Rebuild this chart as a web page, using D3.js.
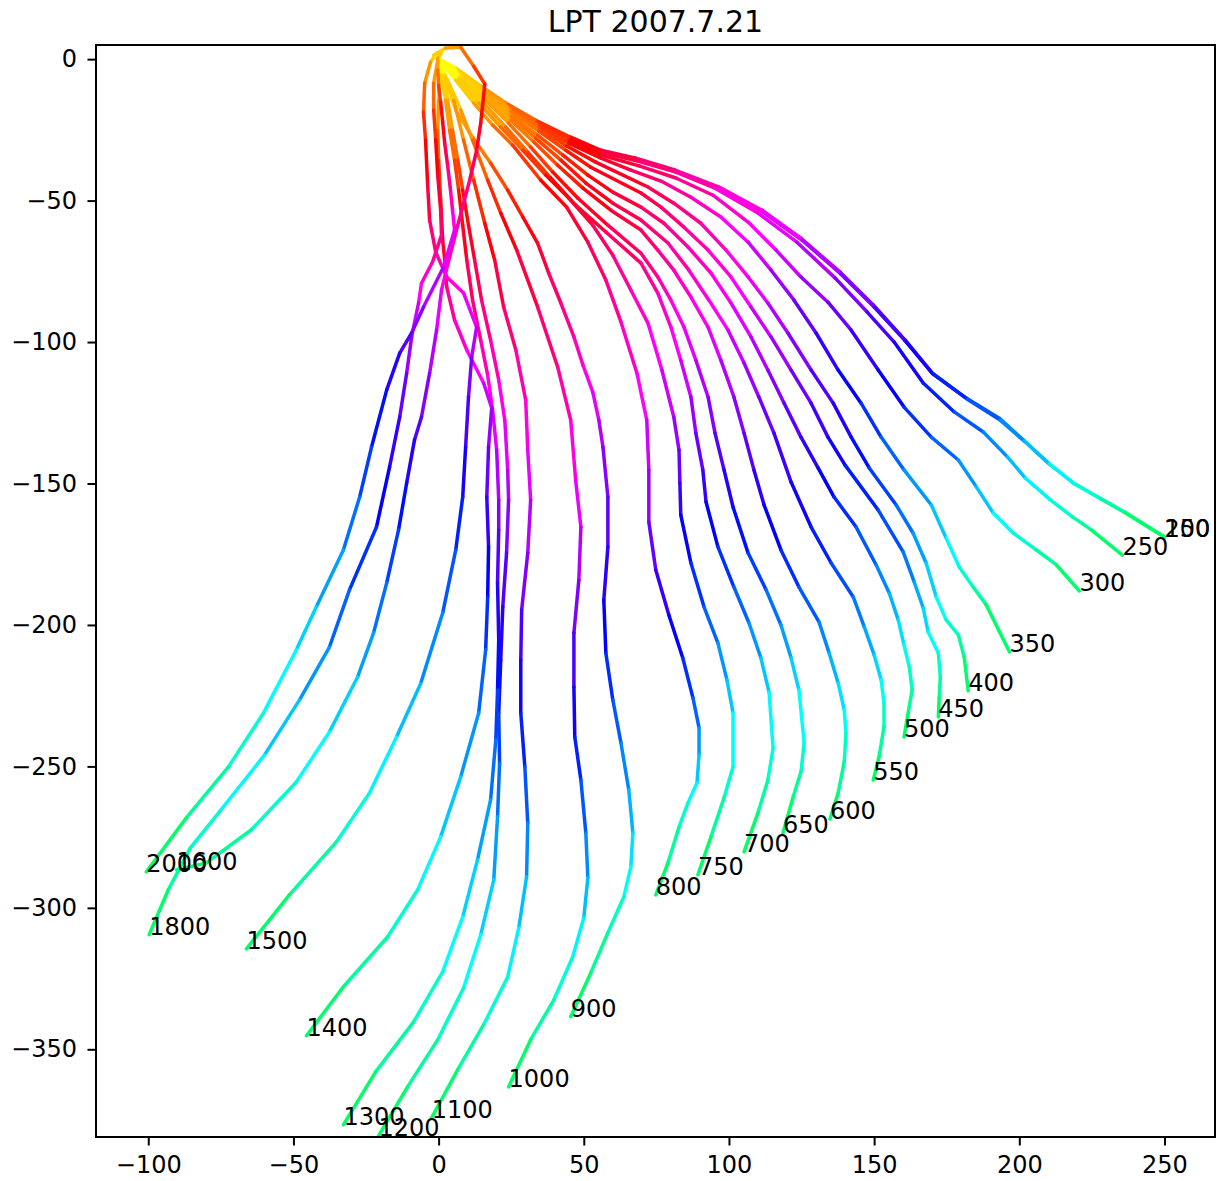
<!DOCTYPE html>
<html>
<head>
<meta charset="utf-8">
<script src="https://cdn.jsdelivr.net/npm/d3@7"></script>
<style>
  body { margin: 0; background: #fff; }
  svg { display: block; }
  text { font-family: "DejaVu Sans", sans-serif; }
</style>
</head>
<body>
<svg id="chart" width="1223" height="1181"></svg>
<script>
// Release heights (m) used as end-of-track labels
const startLabels = [150, 200, 250, 300, 350, 400, 450, 500, 550, 600, 650, 700, 750, 800,
                     900, 1000, 1100, 1200, 1300, 1400, 1500, 1600, 1800, 2000];

// Particle tracks, [x, y] per time step
const traj150 = [[0,0],[5.9,-3.2],[14.5,-9.5],[23.1,-15.5],[33.4,-21.6],[45.5,-27.6],[55.9,-32.2],[67.9,-35.0],[81.4,-39.2],[96.6,-45.2],[111.4,-53.4],[124.8,-63.3],[138.3,-75.3],[149.7,-86.9],[160.7,-99.3],[170.0,-111.0],[181.7,-119.8],[193.1,-126.9],[201.4,-134.6],[210.0,-142.8],[218.6,-149.8],[227.6,-155.1],[236.2,-160.1],[250.0,-168.9]];
const traj200 = [[0,0],[6.2,-3.5],[14.8,-9.9],[23.4,-15.9],[33.8,-22.0],[45.5,-28.0],[56.2,-32.5],[68.3,-35.3],[81.7,-39.6],[97.0,-45.9],[111.7,-54.1],[125.2,-64.0],[138.6,-76.0],[150.0,-87.6],[160.7,-99.6],[170.3,-111.3],[182.1,-120.2],[193.4,-127.6],[201.7,-135.0],[210.3,-143.1],[219.0,-150.1],[228.0,-155.4],[236.6,-160.4],[250.0,-168.9]];
const traj250 = [[0,0],[6.2,-3.9],[14.8,-10.2],[23.4,-16.3],[33.8,-22.3],[45.5,-28.3],[55.9,-32.9],[68.6,-36.0],[81.7,-39.9],[95.2,-45.6],[110.0,-54.4],[123.4,-64.7],[136.6,-77.4],[147.6,-89.4],[156.9,-100.0],[166.9,-114.5],[177.6,-124.7],[187.6,-131.8],[195.9,-140.6],[202.1,-148.1],[210.7,-155.8],[218.3,-161.8],[224.8,-166.4],[235.5,-175.3]];
const traj300 = [[0,0],[6.2,-4.2],[15.2,-11.0],[23.8,-17.0],[34.1,-23.3],[44.8,-29.0],[55.9,-33.9],[69.3,-37.8],[81.7,-42.0],[94.5,-48.1],[106.6,-57.6],[116.2,-67.5],[124.8,-77.0],[134.1,-85.9],[142.1,-95.8],[151.4,-109.9],[160.3,-123.0],[169.7,-133.6],[179.0,-141.7],[185.2,-151.2],[191.0,-160.4],[197.9,-167.5],[205.9,-173.5],[212.8,-178.8],[220.7,-188.0]];
const traj350 = [[0,0],[6.6,-4.6],[15.5,-11.3],[24.1,-17.3],[34.5,-23.7],[44.8,-29.7],[55.9,-35.0],[66.2,-39.2],[76.6,-43.1],[86.9,-48.8],[97.2,-55.8],[106.6,-64.7],[114.5,-74.6],[122.4,-85.2],[130.0,-96.8],[137.6,-109.9],[145.5,-121.6],[152.4,-133.6],[160.3,-145.2],[169.7,-157.6],[174.8,-169.3],[179.3,-179.5],[184.1,-186.6],[188.6,-192.9],[196.6,-209.5]];
const traj400 = [[0,0],[6.6,-4.9],[15.5,-11.7],[24.5,-18.0],[34.5,-24.4],[44.1,-30.7],[54.1,-36.4],[72.1,-45.2],[81.0,-50.9],[90.3,-58.0],[99.0,-67.5],[106.6,-77.0],[113.4,-86.2],[120.3,-96.8],[128.3,-109.9],[135.9,-121.6],[142.1,-133.6],[148.3,-144.5],[157.6,-157.6],[163.4,-167.5],[167.9,-178.1],[171.4,-190.1],[174.8,-198.2],[179.0,-203.5],[181.0,-211.3],[182.4,-223.3]];
const traj450 = [[0,0],[6.6,-5.3],[15.9,-12.0],[24.8,-18.7],[34.5,-25.4],[43.8,-32.2],[52.4,-38.2],[69.7,-47.3],[76.6,-52.3],[84.5,-59.4],[92.8,-67.5],[100.7,-77.0],[107.6,-87.6],[114.5,-98.2],[121.4,-109.9],[128.3,-121.6],[134.1,-133.6],[140.0,-143.5],[151.4,-159.4],[160.0,-174.2],[163.8,-184.8],[166.9,-194.0],[168.6,-202.5],[172.1,-209.9],[172.8,-218.4],[172.4,-225.8],[172.1,-232.5]];
const traj500 = [[0,0],[6.9,-5.7],[15.9,-12.7],[24.8,-19.8],[34.1,-26.9],[42.8,-33.9],[51.4,-41.0],[60.0,-47.0],[69.7,-52.3],[77.6,-58.0],[85.9,-66.4],[93.8,-75.6],[100.7,-86.2],[107.6,-98.2],[113.4,-109.9],[119.0,-121.6],[124.8,-133.6],[130.7,-144.5],[136.2,-154.8],[143.8,-165.4],[150.7,-178.8],[155.2,-188.7],[158.3,-198.2],[160.3,-207.1],[162.1,-214.8],[163.1,-223.0],[161.7,-231.1],[160.3,-239.6]];
const traj550 = [[0,0],[6.9,-5.7],[16.2,-13.1],[24.8,-20.5],[33.4,-27.9],[42.1,-35.7],[50.7,-43.8],[60.0,-50.9],[69.7,-56.9],[79.0,-65.0],[86.2,-74.6],[93.1,-85.2],[99.7,-95.8],[105.2,-107.4],[110.3,-119.4],[115.5,-132.2],[121.4,-149.5],[128.3,-165.4],[135.2,-178.1],[142.8,-190.1],[146.6,-200.7],[150.0,-210.6],[152.4,-219.4],[153.4,-227.6],[153.4,-236.0],[151.7,-246.6],[149.7,-254.8]];
const traj600 = [[0,0],[7.2,-6.0],[16.2,-13.8],[24.8,-21.6],[32.8,-29.3],[41.0,-37.5],[49.7,-45.6],[59.3,-53.4],[69.7,-60.4],[75.5,-67.5],[81.0,-74.6],[86.9,-84.1],[92.8,-94.7],[97.2,-106.4],[101.7,-119.4],[105.2,-132.2],[108.6,-145.2],[112.1,-157.6],[117.9,-173.5],[124.1,-186.6],[131.0,-198.9],[134.5,-209.9],[137.6,-220.5],[139.7,-230.0],[140.3,-238.2],[139.7,-248.4],[137.6,-259.4],[134.8,-268.6]];
const traj650 = [[0,0],[7.2,-6.4],[16.2,-14.5],[24.1,-22.6],[31.7,-31.1],[39.3,-39.9],[47.9,-49.1],[58.3,-58.7],[69.7,-68.6],[75.5,-77.0],[80.0,-85.2],[84.5,-94.7],[88.6,-106.4],[92.8,-119.4],[95.2,-132.2],[98.3,-145.2],[101.4,-158.3],[106.6,-174.6],[112.8,-187.6],[117.9,-200.0],[121.4,-211.7],[124.1,-223.0],[125.9,-241.7],[124.8,-251.9],[122.1,-260.8],[118.6,-273.5]];
const traj700 = [[0,0],[6.9,-6.7],[15.2,-15.2],[23.1,-24.0],[30.7,-32.9],[38.6,-42.0],[47.2,-51.6],[57.6,-61.1],[69.7,-72.1],[75.5,-82.7],[80.0,-94.7],[83.4,-106.4],[86.9,-119.4],[88.6,-132.2],[91.0,-145.2],[92.1,-156.5],[96.2,-172.4],[101.7,-186.6],[106.9,-199.3],[111.0,-211.7],[113.8,-223.7],[115.2,-243.5],[113.4,-254.8],[110.0,-266.4],[105.2,-280.2]];
const traj750 = [[0,0],[6.6,-7.4],[13.8,-15.5],[21.4,-24.0],[29.0,-32.2],[36.9,-41.0],[44.8,-49.1],[53.1,-58.7],[60.0,-69.3],[66.2,-81.6],[72.1,-93.3],[76.9,-109.9],[81.0,-126.5],[82.8,-138.2],[83.1,-149.8],[83.4,-161.1],[86.9,-178.1],[91.4,-193.6],[96.2,-206.4],[99.3,-219.4],[101.4,-231.1],[101.4,-250.2],[98.3,-261.1],[93.8,-274.9],[89.3,-288.3]];
const traj800 = [[0,0],[5.9,-7.4],[12.1,-15.5],[18.6,-23.3],[25.5,-30.4],[35.2,-42.8],[44.1,-52.3],[51.4,-64.7],[57.6,-78.1],[62.8,-92.9],[68.3,-111.0],[71.7,-127.6],[72.4,-145.2],[72.4,-163.6],[74.8,-180.6],[79.3,-196.5],[84.1,-211.7],[87.6,-225.8],[89.7,-236.4],[89.7,-245.9],[89.0,-255.8],[85.9,-262.9],[82.8,-271.4],[79.0,-284.1],[74.8,-295.4]];
const traj900 = [[0,0],[2.1,-7.4],[5.9,-18.0],[11.7,-27.6],[17.9,-36.7],[23.8,-46.3],[29.0,-55.8],[34.1,-65.0],[37.9,-75.6],[42.1,-86.2],[46.6,-98.2],[49.7,-108.1],[53.1,-117.7],[55.2,-127.6],[56.6,-137.1],[58.3,-154.8],[58.3,-172.4],[56.9,-191.2],[57.6,-209.9],[60.0,-226.5],[62.8,-241.7],[65.5,-258.3],[66.9,-273.5],[66.2,-285.5],[63.8,-296.1],[58.3,-308.8],[52.4,-323.0],[45.5,-338.5]];
const traj1000 = [[0,0],[3.1,-7.4],[7.6,-18.0],[11.7,-28.6],[16.9,-42.8],[21.4,-54.4],[26.9,-67.5],[34.1,-87.6],[41.0,-108.8],[45.5,-127.6],[47.2,-148.8],[49.0,-165.4],[48.3,-184.1],[46.6,-202.8],[46.6,-221.9],[46.9,-239.6],[49.0,-254.8],[50.7,-273.5],[51.4,-289.4],[50.0,-303.5],[46.2,-317.3],[39.7,-332.5],[31.7,-346.6],[24.1,-363.3]];
const traj1100 = [[0,0],[2.1,-5.7],[5.2,-14.5],[8.6,-28.6],[12.1,-42.8],[15.9,-58.0],[19.3,-71.0],[22.4,-87.6],[26.6,-102.8],[30.0,-120.5],[30.7,-138.2],[31.7,-155.8],[30.7,-174.6],[28.6,-194.7],[28.3,-212.4],[28.3,-231.1],[29.7,-250.2],[30.7,-270.0],[30.3,-289.0],[27.6,-307.1],[23.8,-324.4],[15.5,-341.3],[6.6,-357.2],[-2.4,-374.2]];
const traj1200 = [[0,0],[1.4,-5.7],[3.1,-14.5],[4.8,-25.1],[6.6,-35.7],[8.3,-46.3],[10.3,-58.7],[12.4,-71.0],[14.8,-85.2],[17.9,-99.3],[20.7,-113.4],[22.8,-127.6],[23.8,-145.2],[24.1,-155.8],[23.4,-174.6],[22.1,-193.6],[21.4,-212.4],[20.7,-231.1],[21.0,-248.8],[20.3,-267.8],[19.0,-290.1],[14.5,-309.5],[8.6,-328.3],[-0.3,-346.6],[-10.7,-363.3],[-20.7,-380.6]];
const traj1300 = [[0,0],[1.0,-5.7],[2.4,-14.5],[3.8,-25.1],[5.5,-35.7],[6.9,-46.3],[8.3,-58.7],[9.7,-71.0],[11.7,-85.2],[14.5,-99.3],[16.9,-111.7],[18.6,-124.0],[20.0,-138.2],[20.7,-155.8],[20.7,-166.4],[20.3,-185.2],[20.7,-205.3],[20.3,-223.0],[19.7,-240.6],[17.9,-261.8],[13.4,-283.0],[8.3,-303.2],[1.4,-322.6],[-8.6,-340.3],[-21.7,-358.0],[-32.8,-376.7]];
const traj1400 = [[0,0],[0.3,-5.7],[0,-14.5],[-0.3,-25.1],[0,-35.7],[0.7,-49.8],[1.4,-64.0],[2.1,-71.0],[2.8,-80.6],[5.5,-92.2],[9.7,-102.8],[15.5,-114.5],[18.3,-123.3],[17.2,-137.1],[16.6,-154.8],[17.2,-172.4],[16.9,-190.1],[16.2,-208.8],[13.8,-231.1],[7.6,-253.7],[0.7,-274.9],[-7.2,-293.6],[-17.6,-310.3],[-32.8,-327.9],[-45.5,-345.2]];
const traj1500 = [[0,0],[-0.7,2.1],[-2.8,-1.1],[-4.8,-8.5],[-5.2,-18.7],[-4.5,-28.6],[-3.8,-43.8],[-3.1,-56.9],[-1.0,-68.2],[2.8,-77.0],[8.6,-82.7],[13.1,-94.7],[11.4,-105.3],[10.3,-119.4],[9.3,-137.1],[8.3,-154.8],[5.9,-173.5],[1.4,-195.8],[-6.2,-220.8],[-14.5,-239.6],[-23.8,-259.4],[-35.2,-276.7],[-51.4,-295.4],[-66.2,-314.5]];
const traj1600 = [[0,0],[-1.7,1.4],[2.4,3.9],[7.6,4.2],[12.1,-2.5],[15.9,-8.8],[14.5,-22.6],[13.1,-32.2],[10.7,-42.8],[6.6,-58.7],[3.1,-72.8],[1.0,-81.6],[-0.7,-95.8],[-3.1,-111.0],[-5.9,-126.5],[-8.3,-134.6],[-11.0,-149.8],[-13.8,-166.4],[-17.9,-185.2],[-22.4,-202.8],[-27.9,-218.4],[-37.6,-237.8],[-49.0,-255.5],[-64.5,-272.4],[-80.0,-284.1],[-90.3,-286.6]];
const traj1800 = [[0,0],[1.0,2.5],[-0.3,-0.4],[-1.7,-8.5],[-1.7,-18.0],[-1.0,-28.6],[-0.3,-41.0],[0.7,-53.4],[1.0,-62.2],[-2.1,-71.7],[-5.9,-79.2],[-6.9,-86.2],[-9.3,-98.2],[-11.0,-111.0],[-13.4,-126.5],[-16.9,-144.2],[-21.4,-165.4],[-30.7,-187.6],[-37.6,-207.8],[-47.9,-226.5],[-60.0,-246.0],[-75.5,-266.1],[-85.5,-278.8],[-93.1,-293.6],[-99.7,-309.5]];
const traj2000 = [[0,0],[0.7,2.1],[-0.3,0.4],[-0.3,-3.9],[0,-9.2],[0.7,-15.2],[1.4,-22.3],[2.1,-29.7],[3.1,-37.5],[4.1,-46.3],[4.8,-53.4],[5.5,-60.4],[1.7,-73.5],[-5.2,-87.6],[-9.3,-96.8],[-13.4,-103.9],[-17.9,-117.0],[-23.1,-137.1],[-27.2,-154.8],[-32.8,-173.5],[-42.1,-193.6],[-49.0,-208.8],[-60.3,-231.1],[-72.4,-250.2],[-86.9,-268.2],[-100.7,-287.3]];

const tracks = [traj150, traj200, traj250, traj300, traj350, traj400, traj450, traj500,
                traj550, traj600, traj650, traj700, traj750, traj800, traj900, traj1000,
                traj1100, traj1200, traj1300, traj1400, traj1500, traj1600, traj1800, traj2000];

const xTicks = [-100, -50, 0, 50, 100, 150, 200, 250];
const yTicks = [0, -50, -100, -150, -200, -250, -300, -350];
const titleText = "LPT 2007.7.21";

// Layout
const plot = { left: 96, right: 1215, top: 45, bottom: 1137 };
const x = d3.scaleLinear().domain([-118, 267.4]).range([plot.left, plot.right]);
const y = d3.scaleLinear().domain([5, -381]).range([plot.top, plot.bottom]);

// Hue runs yellow -> red -> magenta -> blue -> cyan -> green over the time steps
const stepColor = t => d3.hsl(60 - 275 * t, 1, 0.5).toString();

const svg = d3.select("#chart");

svg.append("defs").append("clipPath").attr("id", "plot-clip")
  .append("rect")
  .attr("x", plot.left).attr("y", plot.top)
  .attr("width", plot.right - plot.left).attr("height", plot.bottom - plot.top);

const trackLayer = svg.append("g").attr("clip-path", "url(#plot-clip)");

tracks.forEach((pts, k) => {
  const segs = d3.pairs(pts);
  const n = segs.length;
  trackLayer.append("g")
    .attr("class", "track track-" + startLabels[k])
    .selectAll("line")
    .data(segs)
    .join("line")
      .attr("x1", d => x(d[0][0])).attr("y1", d => y(d[0][1]))
      .attr("x2", d => x(d[1][0])).attr("y2", d => y(d[1][1]))
      .attr("stroke", (d, i) => stepColor(n > 1 ? i / (n - 1) : 0))
      .attr("stroke-width", 3.5)
      .attr("stroke-linecap", "round");
});

// Axes
const fmt = d3.format("d");
const xAxis = svg.append("g")
  .attr("transform", `translate(0,${plot.bottom})`)
  .call(d3.axisBottom(x).tickValues(xTicks).tickFormat(fmt).tickSize(8.5).tickPadding(10));
const yAxis = svg.append("g")
  .attr("transform", `translate(${plot.left},0)`)
  .call(d3.axisLeft(y).tickValues(yTicks).tickFormat(fmt).tickSize(8.5).tickPadding(10.5));

[xAxis, yAxis].forEach(a => {
  a.select(".domain").remove();
  a.selectAll(".tick line").attr("stroke", "#000").attr("stroke-width", 2);
  a.selectAll(".tick text")
    .attr("fill", "#000")
    .style("font-family", '"DejaVu Sans", sans-serif')
    .style("font-size", "24px");
});

// Frame
svg.append("rect")
  .attr("x", plot.left).attr("y", plot.top)
  .attr("width", plot.right - plot.left).attr("height", plot.bottom - plot.top)
  .attr("fill", "none").attr("stroke", "#000").attr("stroke-width", 2);

// End-of-track labels
svg.append("g").selectAll("text")
  .data(tracks.map((pts, k) => ({ end: pts[pts.length - 1], label: startLabels[k] })))
  .join("text")
    .attr("x", d => x(d.end[0]))
    .attr("y", d => y(d.end[1]))
    .attr("text-anchor", "start")
    .style("font-size", "24px")
    .attr("fill", "#000")
    .text(d => d.label);

// Title
svg.append("text")
  .attr("x", (plot.left + plot.right) / 2)
  .attr("y", 32)
  .attr("text-anchor", "middle")
  .style("font-size", "30px")
  .attr("fill", "#000")
  .text(titleText);
</script>
</body>
</html>
